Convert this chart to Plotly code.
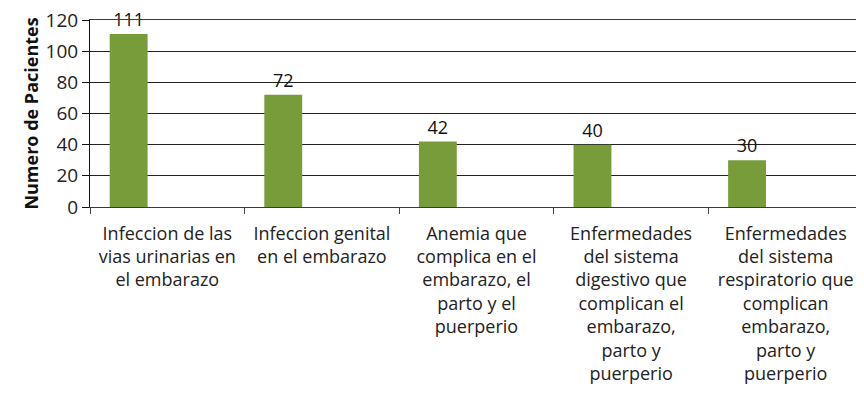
import plotly.graph_objects as go

categorias = [
    "Infeccion de las<br>vias urinarias en<br>el embarazo",
    "Infeccion genital<br>en el embarazo",
    "Anemia que<br>complica en el<br>embarazo, el<br>parto y el<br>puerperio",
    "Enfermedades<br>del sistema<br>digestivo que<br>complican el<br>embarazo,<br>parto y<br>puerperio",
    "Enfermedades<br>del sistema<br>respiratorio que<br>complican<br>embarazo,<br>parto y<br>puerperio",
]
pacientes = [111, 72, 42, 40, 30]
y_ticks = [0, 20, 40, 60, 80, 100, 120]

fig = go.Figure()
fig.add_trace(go.Bar(
    x=categorias,
    y=pacientes,
    text=[str(v) for v in pacientes],
    textposition="outside",
    cliponaxis=False,
    textfont=dict(size=18, color="#111"),
    width=0.245,
    offset=-0.3725,
    marker=dict(color="#789c3a", line=dict(width=0)),
))

fig.update_layout(
    width=864, height=411,
    margin=dict(l=82, r=9, t=12, b=212),
    paper_bgcolor="white", plot_bgcolor="white",
    font=dict(family="Open Sans, Liberation Sans, sans-serif", size=17, color="#111"),
    showlegend=False,
    xaxis=dict(
        tickson="boundaries", ticks="outside", ticklen=6, tickcolor="#444",
        showline=True, linecolor="#3a3a3a", linewidth=1, mirror=True,
        tickangle=0, tickfont=dict(size=18, color="#222"),
        ticklabelstandoff=10,
        showgrid=False,
    ),
    yaxis=dict(
        range=[0, 120.01], tickvals=y_ticks,
        ticks="outside", ticklen=7, tickcolor="#111",
        showline=True, linecolor="#111", linewidth=1,
        showgrid=True, gridcolor="#222", gridwidth=1,
        zeroline=False,
        ticklabeloverflow="allow",
        automargin="left",
        tickfont=dict(size=19, color="#222"),
        title=dict(text="<b>Numero de Pacientes</b>", font=dict(size=18, color="#111"), standoff=2),
    ),
)

fig.write_html("out.html")
